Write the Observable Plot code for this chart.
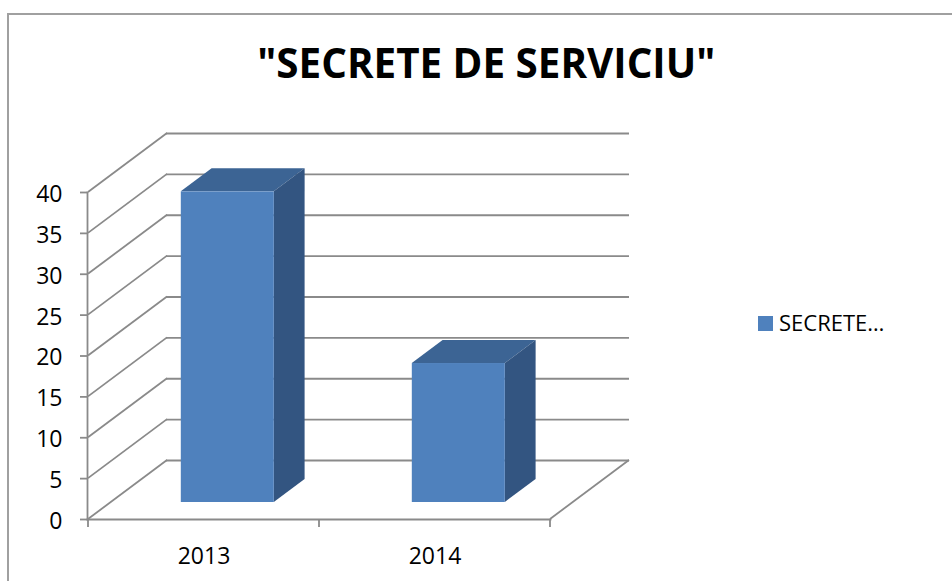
<!DOCTYPE html>
<html>
<head>
<meta charset="utf-8">
<script src="https://cdn.jsdelivr.net/npm/d3@7"></script>
<script src="https://cdn.jsdelivr.net/npm/@observablehq/plot@0.6"></script>
<style>
  html, body { margin: 0; padding: 0; background: #fff; }
  #wrap { position: relative; width: 952px; height: 581px; overflow: hidden; font-family: "Open Sans", sans-serif; }
  #border { position: absolute; left: 7px; top: 13px; width: 1200px; height: 1200px;
            border-left: 2px solid #a0a0a0; border-top: 2px solid #a0a0a0; }
  #chart { position: absolute; left: 0; top: 0; }
  #title { position: absolute; left: 10px; top: 41px; width: 952px; text-align: center;
           font-weight: 700; font-size: 42px; line-height: 42px; color: #000; white-space: nowrap; }
  #titleText { display: inline-block; transform-origin: 50% 50%; }
  #legend { position: absolute; left: 758px; top: 311px; font-size: 22px; line-height: 22px; color: #000; white-space: nowrap; }
  #legend .sw { position: absolute; left: 0; top: 5px; width: 15px; height: 15px; background: #4f81bd; }
  #legend .lb { position: absolute; left: 21px; top: 0; }
</style>
</head>
<body>
<div id="wrap">
  <div id="border"></div>
  <div id="chart"></div>
  <div id="title"><span id="titleText"></span></div>
  <div id="legend"><span class="sw"></span><span class="lb"></span></div>
</div>
<script>
// ---- data ----
const titleText = "\"SECRETE DE SERVICIU\"";
const seriesName = "SECRETE…";
const years = ["2013", "2014"];
const counts = [38, 17];
const yTicks = [0, 5, 10, 15, 20, 25, 30, 35, 40];

// ---- style ----
const gridColor = "#8a8a8a";
const gridWidth = 1.8;
const frontColor = "#4f81bd";
const topColor = "#3c6494";
const sideColor = "#335581";
// 3D offsets (pixels)
const WALL_DX = 79, WALL_DY = -59;     // back wall depth
const F_DX = 22.8, F_DY = -17;         // bar front face depth
const B_DX = 53.6, B_DY = -40;         // bar back face depth
const INSET_L = 70, INSET_R = 68;

const table = years.map((y, i) => ({year: y, count: counts[i]}));

function bandw(x) {
  return typeof x.bandwidth === "function" ? x.bandwidth() : (x(years[1]) - x(years[0]));
}

// diagonals of the side wall/floor + x-axis boundary ticks
function wallLines(index, scales) {
  const {x, y} = scales;
  const bw = bandw(x);
  const x0 = x(years[0]);
  const x1 = x(years[years.length - 1]) + bw;
  const g = d3.create("svg:g").attr("stroke", gridColor).attr("stroke-width", gridWidth).attr("fill", "none");
  for (const v of yTicks) {
    g.append("line").attr("x1", x0).attr("y1", y(v)).attr("x2", x0 + WALL_DX).attr("y2", y(v) + WALL_DY);
  }
  // floor right edge
  g.append("line").attr("x1", x1).attr("y1", y(0)).attr("x2", x1 + WALL_DX).attr("y2", y(0) + WALL_DY);
  // x-axis ticks at band boundaries
  const bounds = years.map(yr => x(yr)).concat([x1]);
  for (const b of bounds) {
    g.append("line").attr("x1", b).attr("y1", y(0)).attr("x2", b).attr("y2", y(0) + 8);
  }
  return g.node();
}

// top and side faces of the bars
function barFaces(index, scales) {
  const {x, y} = scales;
  const bw = bandw(x);
  const g = d3.create("svg:g");
  const ddx = B_DX - F_DX, ddy = B_DY - F_DY;
  table.forEach(d => {
    const left = x(d.year) + INSET_L + F_DX;
    const right = x(d.year) + bw - INSET_R + F_DX;
    const top = y(d.count) + F_DY;
    const bottom = y(0) + F_DY;
    g.append("path")
      .attr("d", `M${left},${top}L${right},${top}L${right + ddx},${top + ddy}L${left + ddx},${top + ddy}Z`)
      .attr("fill", topColor);
    g.append("path")
      .attr("d", `M${right},${top}L${right + ddx},${top + ddy}L${right + ddx},${bottom + ddy}L${right},${bottom}Z`)
      .attr("fill", sideColor);
  });
  return g.node();
}

const chart = Plot.plot({
  width: 952,
  height: 581,
  marginLeft: 87,
  marginRight: 402,
  marginTop: 192,
  marginBottom: 62,
  style: {fontFamily: "Open Sans", fontSize: "23px", color: "#000", background: "transparent", overflow: "visible"},
  x: {type: "band", domain: years, padding: 0, axis: null, label: null},
  y: {domain: [0, 40], axis: null, label: null},
  marks: [
    Plot.ruleY(yTicks, {y: d => d, dx: WALL_DX, dy: WALL_DY, stroke: gridColor, strokeWidth: gridWidth}),
    wallLines,
    Plot.frame({anchor: "left", stroke: gridColor, strokeWidth: gridWidth}),
    Plot.frame({anchor: "bottom", stroke: gridColor, strokeWidth: gridWidth}),
    Plot.axisY(yTicks, {tickSize: 7, tickFormat: () => "", stroke: gridColor, strokeWidth: gridWidth, label: null}),
    Plot.axisY(yTicks, {tickSize: 0, tickPadding: 25, dy: 2, fill: "#000", fontSize: 23, label: null}),
    Plot.axisX(years, {tickSize: 0, tickPadding: 28, fill: "#000", fontSize: 23, label: null}),
    barFaces,
    Plot.barY(table, {x: "year", y: "count", fill: frontColor, dx: F_DX, dy: F_DY, insetLeft: INSET_L, insetRight: INSET_R})
  ]
});
document.getElementById("chart").appendChild(chart);

const tt = document.getElementById("titleText");
tt.textContent = titleText;
const w = tt.getBoundingClientRect().width;
tt.style.transform = `scaleX(${458 / w})`;
document.querySelector("#legend .lb").textContent = seriesName;
</script>
</body>
</html>
